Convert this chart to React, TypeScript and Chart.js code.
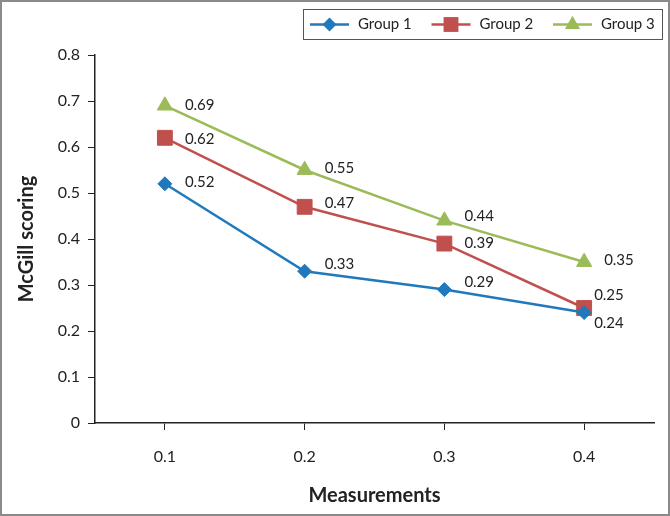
import React, { useEffect, useRef } from "react";
import { Chart, registerables } from "chart.js";

Chart.register(...registerables);

const categories = ["0.1", "0.2", "0.3", "0.4"];
const seriesNames = ["Group 1", "Group 2", "Group 3"];
const group1 = [0.52, 0.33, 0.29, 0.24];
const group2 = [0.62, 0.47, 0.39, 0.25];
const group3 = [0.69, 0.55, 0.44, 0.35];
const yTicks = [0, 0.1, 0.2, 0.3, 0.4, 0.5, 0.6, 0.7, 0.8];

const colors = ["#2079bc", "#c0504d", "#9bbb59"];
const pointStyles = ["rectRot", "rect", "triangle"];
const pointRadii = [7, 10.5, 8.8];

// label offsets (style) per dataset / point: [dx, dy]
const labelOffsets = [
  [[20, -2], [20, -7], [20, -7], [10, 11]],
  [[20, 1], [20, -4], [20, 0], [10, -13]],
  [[20, 0], [20, -2], [20, -4], [20, -2]],
];

const FONT = "Lato, 'Open Sans', sans-serif";

const legendPlugin = {
  id: "customLegend",
  afterDraw(chart: any) {
    const ctx = chart.ctx;
    ctx.save();
    ctx.strokeStyle = "#555";
    ctx.lineWidth = 1;
    ctx.strokeRect(303.5, 9.5, 359, 30);
    const y = 24.5;
    for (let i = 0; i < seriesNames.length; i++) {
      const x0 = 310 + i * 121.5;
      ctx.strokeStyle = colors[i];
      ctx.lineWidth = 2.5;
      ctx.beginPath();
      ctx.moveTo(x0, y);
      ctx.lineTo(x0 + 39, y);
      ctx.stroke();
      ctx.fillStyle = colors[i];
      ctx.strokeStyle = colors[i];
      ctx.lineWidth = 1;
      const r = pointRadii[i];
      ctx.beginPath();
      if (i === 0) {
        ctx.moveTo(x0 + 19.5, y - r);
        ctx.lineTo(x0 + 19.5 + r, y);
        ctx.lineTo(x0 + 19.5, y + r);
        ctx.lineTo(x0 + 19.5 - r, y);
      } else if (i === 1) {
        const s = r * Math.SQRT1_2;
        ctx.rect(x0 + 19.5 - s, y - s, 2 * s, 2 * s);
      } else {
        ctx.moveTo(x0 + 19.5, y - r);
        ctx.lineTo(x0 + 19.5 + r * 0.866, y + r * 0.5);
        ctx.lineTo(x0 + 19.5 - r * 0.866, y + r * 0.5);
      }
      ctx.closePath();
      ctx.fill();
      ctx.fillStyle = "#222";
      ctx.font = `15px ${FONT}`;
      ctx.textAlign = "left";
      ctx.textBaseline = "middle";
      ctx.fillText(seriesNames[i], x0 + 48, y);
    }
    ctx.restore();
  },
};

const labelPlugin = {
  id: "pointLabels",
  afterDatasetsDraw(chart: any) {
    const ctx = chart.ctx;
    ctx.save();
    ctx.fillStyle = "#222";
    ctx.font = `15px ${FONT}`;
    ctx.textAlign = "left";
    ctx.textBaseline = "middle";
    chart.data.datasets.forEach((ds: any, di: number) => {
      const meta = chart.getDatasetMeta(di);
      meta.data.forEach((pt: any, i: number) => {
        const [dx, dy] = labelOffsets[di][i];
        ctx.fillText(String(ds.data[i]), pt.x + dx, pt.y + dy);
      });
    });
    ctx.restore();
  },
};

export default function App() {
  const ref = useRef<HTMLCanvasElement | null>(null);
  useEffect(() => {
    if (!ref.current) return;
    const series = [group1, group2, group3];
    const chart = new Chart(ref.current, {
      type: "line",
      data: {
        labels: categories,
        datasets: series.map((d, i) => ({
          label: seriesNames[i],
          data: d,
          borderColor: colors[i],
          backgroundColor: colors[i],
          borderWidth: 2.5,
          pointStyle: pointStyles[i] as any,
          pointRadius: pointRadii[i],
          pointBorderWidth: 1,
          pointBackgroundColor: colors[i],
          pointBorderColor: colors[i],
          tension: 0,
        })),
      },
      options: {
        responsive: false,
        animation: false,
        devicePixelRatio: 1,
        layout: { padding: { left: 0, right: 16, top: 55, bottom: 0 } },
        plugins: {
          legend: { display: false },
          tooltip: { enabled: false },
        },
        scales: {
          x: {
            offset: true,
            grid: {
              display: true,
              drawOnChartArea: false,
              drawTicks: true,
              tickLength: 7,
              color: "#222",
              offset: false,
            },
            border: { color: "#222", width: 1.5 },
            ticks: {
              color: "#222",
              font: { family: FONT, size: 16 },
              padding: 17,
            },
            title: {
              display: true,
              text: "Measurements",
              color: "#222",
              font: { family: FONT, size: 20, weight: "bold" },
              padding: { top: 0, bottom: 8 },
            },
            afterFit: (s: any) => {
              s.height = 93;
            },
          },
          y: {
            min: 0,
            max: 0.8,
            afterBuildTicks: (s: any) => {
              s.ticks = yTicks.map((v) => ({ value: v }));
            },
            grid: {
              display: true,
              drawOnChartArea: false,
              drawTicks: true,
              tickLength: 7,
              color: "#222",
            },
            border: { color: "#222", width: 1.5 },
            ticks: {
              color: "#222",
              font: { family: FONT, size: 16 },
              padding: 8,
              callback: (v: any) => (Number(v) === 0 ? "0" : Number(v).toFixed(1)),
            },
            title: {
              display: true,
              text: "McGill scoring",
              color: "#222",
              font: { family: FONT, size: 20, weight: "bold" },
              padding: { top: 15, bottom: 0 },
            },
            afterFit: (s: any) => {
              s.width = 95;
            },
          },
        },
      },
      plugins: [legendPlugin, labelPlugin],
    });
    return () => chart.destroy();
  }, []);

  return (
    <div
      style={{
        position: "fixed",
        left: 0,
        top: 0,
        width: 670,
        height: 516,
        boxSizing: "border-box",
        border: "2px solid #8a8a8a",
        background: "#fff",
      }}
    >
      <canvas
        ref={ref}
        width={670}
        height={516}
        style={{ position: "absolute", left: -2, top: -2, width: 670, height: 516 }}
      />
    </div>
  );
}
